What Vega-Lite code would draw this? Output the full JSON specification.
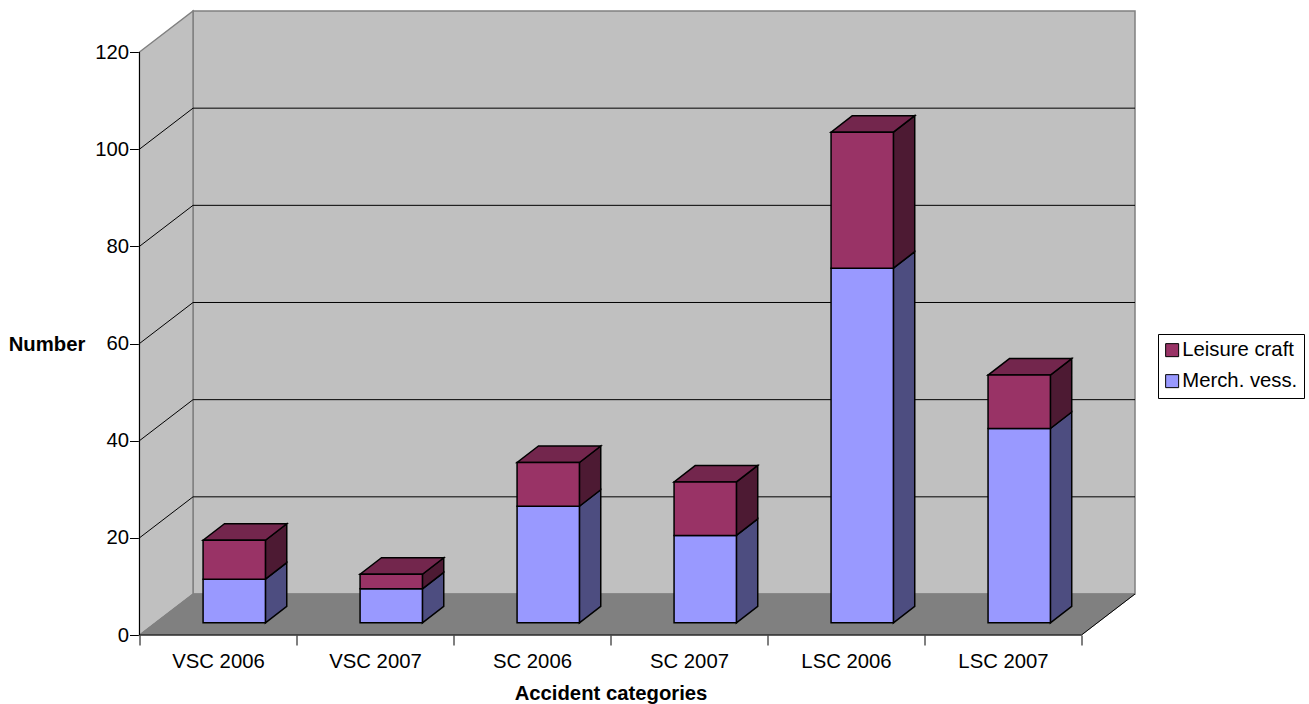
{
  "$schema": "https://vega.github.io/schema/vega-lite/v6.json",
  "autosize": {"type": "none"},
  "padding": {"left": 139.5, "top": 11, "right": 174, "bottom": 69},
  "width": 995.5,
  "height": 624,
  "background": "white",
  "config": {"view": {"stroke": null}, "font": "Liberation Sans"},
  "datasets": {
    "accidents": [
      {"category": "VSC 2006", "series": "Merch. vess.", "number": 9},
      {"category": "VSC 2006", "series": "Leisure craft", "number": 8},
      {"category": "VSC 2007", "series": "Merch. vess.", "number": 7},
      {"category": "VSC 2007", "series": "Leisure craft", "number": 3},
      {"category": "SC 2006", "series": "Merch. vess.", "number": 24},
      {"category": "SC 2006", "series": "Leisure craft", "number": 9},
      {"category": "SC 2007", "series": "Merch. vess.", "number": 18},
      {"category": "SC 2007", "series": "Leisure craft", "number": 11},
      {"category": "LSC 2006", "series": "Merch. vess.", "number": 73},
      {"category": "LSC 2006", "series": "Leisure craft", "number": 28},
      {"category": "LSC 2007", "series": "Merch. vess.", "number": 40},
      {"category": "LSC 2007", "series": "Leisure craft", "number": 11}
    ],
    "levels": [{"number": 20}, {"number": 40}, {"number": 60}, {"number": 80}, {"number": 100}],
    "depth": [{"t": 0}, {"t": 1}]
  },
  "layer": [
    {
      "description": "Back wall of the box; carries both axes",
      "data": {"values": [{"wall": "back"}]},
      "mark": {"type": "rect", "fill": "#C0C0C0", "stroke": "#808080", "strokeWidth": 1.5},
      "encoding": {
        "x": {
          "datum": 0.341, "type": "quantitative",
          "scale": {"domain": [0, 6.341]},
          "axis": {
            "values": [0, 1, 2, 3, 4, 5, 6],
            "labelExpr": "['VSC 2006','VSC 2007','SC 2006','SC 2007','LSC 2006','LSC 2007',''][datum.value]",
            "labelOffset": 78.5, "labelAlign": "center", "labelOverlap": false, "labelBound": false, "labelFlush": false,
            "labelFontSize": 20.3, "labelColor": "black", "labelPadding": 6,
            "domain": false, "grid": false,
            "tickSize": 10, "tickColor": "black", "tickWidth": 1,
            "title": "Accident categories", "titleFontSize": 20.3, "titleFontWeight": "bold", "titleColor": "black",
            "titleX": 471, "titleY": 58, "titleAlign": "center", "titleBaseline": "middle"
          }
        },
        "x2": {"datum": 6.341},
        "y": {
          "datum": 8.44, "type": "quantitative",
          "scale": {"domain": [0, 128.44]},
          "axis": {
            "values": [0, 20, 40, 60, 80, 100, 120],
            "labelFontSize": 20.3, "labelColor": "black", "labelPadding": 1,
            "domain": false, "grid": false,
            "tickSize": 10, "tickColor": "black", "tickWidth": 1,
            "title": "Number", "titleFontSize": 20.3, "titleFontWeight": "bold", "titleColor": "black",
            "titleAngle": 0, "titleX": -93, "titleY": 333, "titleAlign": "center", "titleBaseline": "middle"
          }
        },
        "y2": {"datum": 128.44}
      }
    },
    {
      "description": "Left wall",
      "data": {"name": "depth"},
      "transform": [
        {"calculate": "0.341 * datum.t", "as": "x"},
        {"calculate": "8.44 * datum.t", "as": "low"},
        {"calculate": "120 + 8.44 * datum.t", "as": "high"}
      ],
      "mark": {"type": "area", "fill": "#C0C0C0", "stroke": "#808080", "strokeWidth": 1.5},
      "encoding": {
        "x": {"field": "x", "type": "quantitative", "scale": {"domain": [0, 6.341]}},
        "y": {"field": "low", "type": "quantitative", "scale": {"domain": [0, 128.44]}},
        "y2": {"field": "high"}
      }
    },
    {
      "description": "Floor",
      "data": {"name": "depth"},
      "transform": [
        {"calculate": "0.341 * datum.t", "as": "left"},
        {"calculate": "6 + 0.341 * datum.t", "as": "right"},
        {"calculate": "8.44 * datum.t", "as": "level"}
      ],
      "mark": {"type": "area", "orient": "horizontal", "fill": "#808080", "stroke": "#808080", "strokeWidth": 1},
      "encoding": {
        "y": {"field": "level", "type": "quantitative", "scale": {"domain": [0, 128.44]}},
        "x": {"field": "left", "type": "quantitative", "scale": {"domain": [0, 6.341]}},
        "x2": {"field": "right"}
      }
    },
    {
      "description": "Gridlines on the back wall",
      "data": {"name": "levels"},
      "transform": [{"calculate": "datum.number + 8.44", "as": "level"}],
      "mark": {"type": "rule", "color": "black", "strokeWidth": 1},
      "encoding": {
        "x": {"datum": 0.341, "type": "quantitative", "scale": {"domain": [0, 6.341]}},
        "x2": {"datum": 6.341},
        "y": {"field": "level", "type": "quantitative", "scale": {"domain": [0, 128.44]}}
      }
    },
    {
      "description": "Gridlines on the left wall",
      "data": {"name": "levels"},
      "transform": [{"calculate": "datum.number + 8.44", "as": "level"}],
      "mark": {"type": "rule", "color": "black", "strokeWidth": 1},
      "encoding": {
        "x": {"datum": 0, "type": "quantitative", "scale": {"domain": [0, 6.341]}},
        "x2": {"datum": 0.341},
        "y": {"field": "number", "type": "quantitative", "scale": {"domain": [0, 128.44]}},
        "y2": {"field": "level"}
      }
    },
    {
      "description": "Axis lines and the right edge of the floor",
      "data": {"values": [
        {"x": 0, "x2": 0, "y": 0, "y2": 120},
        {"x": 0, "x2": 6, "y": 0, "y2": 0},
        {"x": 6, "x2": 6.341, "y": 0, "y2": 8.44}
      ]},
      "mark": {"type": "rule", "color": "black", "strokeWidth": 1},
      "encoding": {
        "x": {"field": "x", "type": "quantitative", "scale": {"domain": [0, 6.341]}},
        "x2": {"field": "x2"},
        "y": {"field": "y", "type": "quantitative", "scale": {"domain": [0, 128.44]}},
        "y2": {"field": "y2"}
      }
    },
    {
      "description": "Stacked columns: side faces, front faces, then the top face",
      "data": {"name": "accidents"},
      "transform": [
        {"stack": "number", "groupby": ["category"], "sort": [{"field": "series", "order": "descending"}], "as": ["base", "total"]},
        {"calculate": "indexof(['VSC 2006','VSC 2007','SC 2006','SC 2007','LSC 2006','LSC 2007'], datum.category)", "as": "slot"},
        {"calculate": "datum.slot + 0.405", "as": "left"},
        {"calculate": "datum.slot + 0.802", "as": "right"},
        {"calculate": "datum.base + 2.5", "as": "bottom"},
        {"calculate": "datum.total + 2.5", "as": "top"}
      ],
      "resolve": {"scale": {"color": "independent"}},
      "layer": [
        {
          "transform": [
            {"calculate": "[0, 1]", "as": "t"},
            {"flatten": ["t"]},
            {"calculate": "datum.right + 0.136 * datum.t", "as": "sx"},
            {"calculate": "datum.bottom + 3.4 * datum.t", "as": "sy"},
            {"calculate": "datum.top + 3.4 * datum.t", "as": "sy2"}
          ],
          "mark": {"type": "area", "stroke": "black", "strokeWidth": 1.5},
          "encoding": {
            "x": {"field": "sx", "type": "quantitative", "scale": {"domain": [0, 6.341]}},
            "y": {"field": "sy", "type": "quantitative", "scale": {"domain": [0, 128.44]}},
            "y2": {"field": "sy2"},
            "detail": {"field": "category"},
            "color": {
              "field": "series", "type": "nominal", "legend": null,
              "scale": {"domain": ["Leisure craft", "Merch. vess."], "range": ["#4D1A33", "#4D4D80"]}
            }
          }
        },
        {
          "transform": [
            {"filter": "datum.series === 'Leisure craft'"},
            {"calculate": "[0, 1]", "as": "t"},
            {"flatten": ["t"]},
            {"calculate": "datum.left + 0.136 * datum.t", "as": "tx"},
            {"calculate": "datum.right + 0.136 * datum.t", "as": "tx2"},
            {"calculate": "datum.top + 3.4 * datum.t", "as": "ty"}
          ],
          "mark": {"type": "area", "orient": "horizontal", "fill": "#73264D", "stroke": "black", "strokeWidth": 1.5},
          "encoding": {
            "y": {"field": "ty", "type": "quantitative", "scale": {"domain": [0, 128.44]}},
            "x": {"field": "tx", "type": "quantitative", "scale": {"domain": [0, 6.341]}},
            "x2": {"field": "tx2"},
            "detail": {"field": "category"}
          }
        },
        {
          "mark": {"type": "rect", "stroke": "black", "strokeWidth": 1.5},
          "encoding": {
            "x": {"field": "left", "type": "quantitative", "scale": {"domain": [0, 6.341]}},
            "x2": {"field": "right"},
            "y": {"field": "bottom", "type": "quantitative", "scale": {"domain": [0, 128.44]}},
            "y2": {"field": "top"},
            "color": {
              "field": "series", "type": "nominal",
              "scale": {"domain": ["Leisure craft", "Merch. vess."], "range": ["#993366", "#9999FF"]},
              "legend": {
                "title": null, "orient": "none", "legendX": 1018.5, "legendY": 323,
                "fillColor": "white", "strokeColor": "black", "padding": 6,
                "symbolType": "square", "symbolSize": 169, "symbolStrokeColor": "black", "symbolStrokeWidth": 1, "symbolOffset": -2,
                "symbolOpacity": 1, "labelFontSize": 20.3, "labelColor": "black", "labelOffset": 0, "rowPadding": 10
              }
            }
          }
        }
      ]
    }
  ]
}
